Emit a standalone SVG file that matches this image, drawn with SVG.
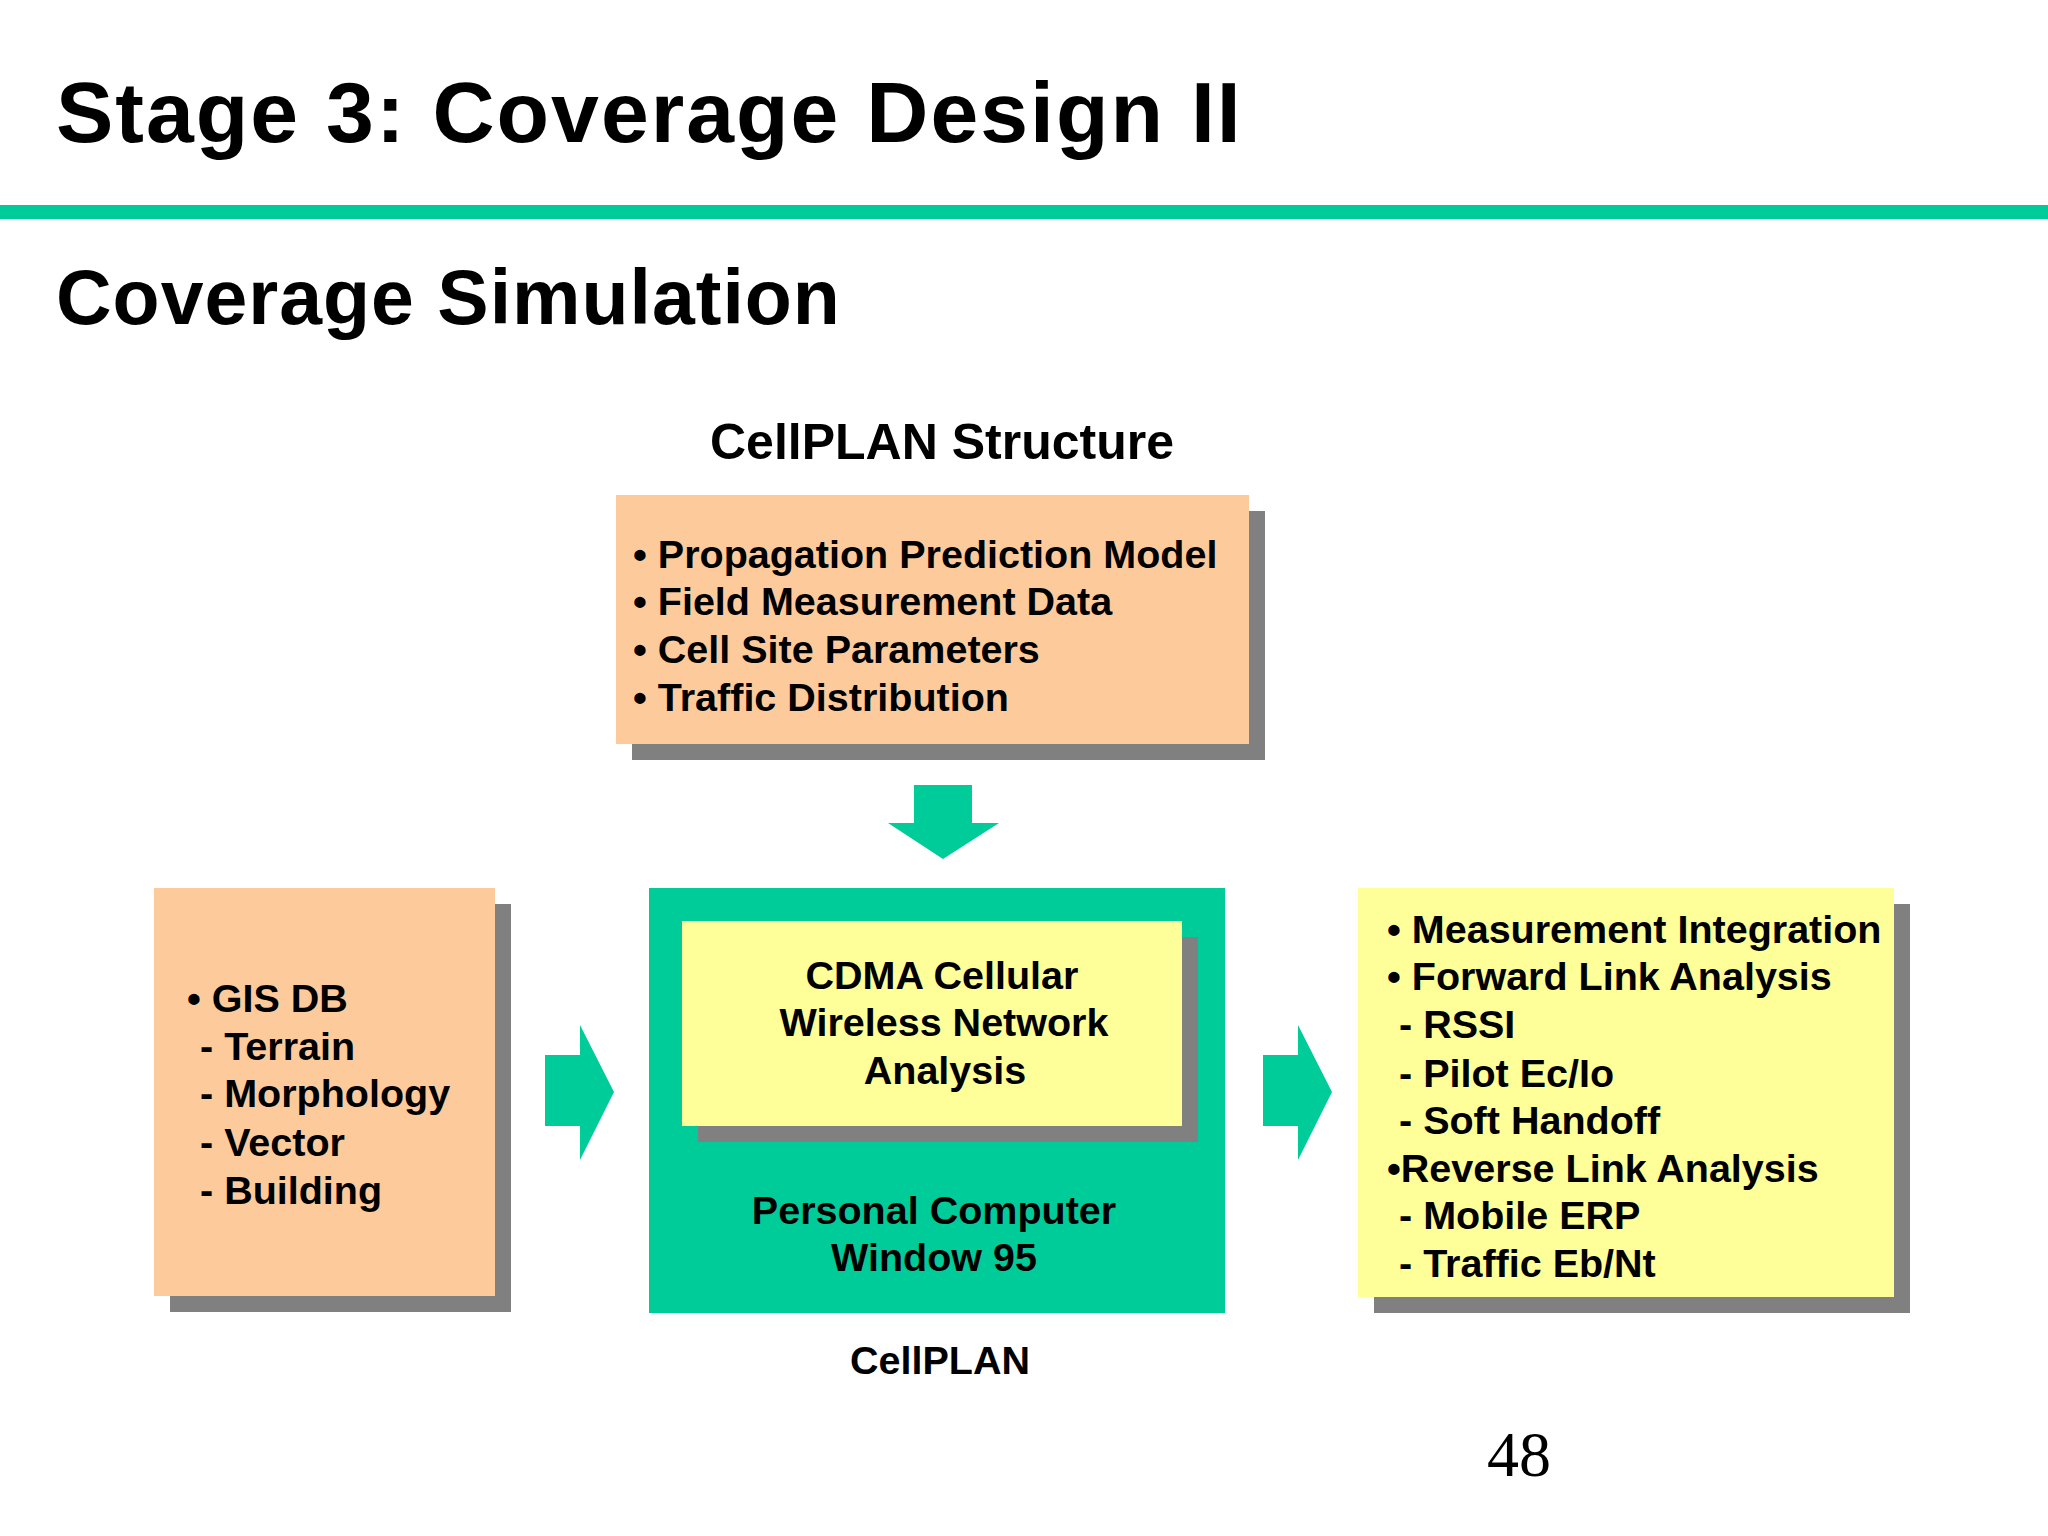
<svg xmlns="http://www.w3.org/2000/svg" width="2048" height="1536" viewBox="0 0 2048 1536">
<style>
text{font-family:"Liberation Sans",Arial,sans-serif;font-weight:bold;fill:#000}
.t{font-size:39.5px}
.sh{fill:#808080}
.peach{fill:#FDCB9B}
.yel{fill:#FFFF99}
.grn{fill:#00CC99}
</style>
<rect width="2048" height="1536" fill="#fff"/>
<text x="56" y="142" font-size="86" letter-spacing="2">Stage 3: Coverage Design II</text>
<rect x="0" y="205" width="2048" height="14" class="grn"/>
<text x="56" y="324" font-size="77" letter-spacing="1">Coverage Simulation</text>
<text x="942" y="459" font-size="50" text-anchor="middle">CellPLAN Structure</text>
<g id="inputs">
<rect x="632" y="511" width="633" height="249" class="sh"/>
<rect x="616" y="495" width="633" height="249" class="peach"/>
<text class="t" x="633" y="568">• Propagation Prediction Model</text>
<text class="t" x="633" y="615">• Field Measurement Data</text>
<text class="t" x="633" y="663">• Cell Site Parameters</text>
<text class="t" x="633" y="711">• Traffic Distribution</text>
</g>
<g id="gis">
<rect x="170" y="904" width="341" height="408" class="sh"/>
<rect x="154" y="888" width="341" height="408" class="peach"/>
<text class="t" x="187" y="1012">• GIS DB</text>
<text class="t" x="200" y="1060">- Terrain</text>
<text class="t" x="200" y="1107">- Morphology</text>
<text class="t" x="200" y="1156">- Vector</text>
<text class="t" x="200" y="1204">- Building</text>
</g>
<g id="cellplan">
<rect x="649" y="888" width="576" height="425" class="grn"/>
<rect x="698" y="937" width="500" height="205" class="sh"/>
<rect x="682" y="921" width="500" height="205" class="yel"/>
<text class="t" x="942" y="989" text-anchor="middle">CDMA Cellular</text>
<text class="t" x="944" y="1036" text-anchor="middle">Wireless Network</text>
<text class="t" x="945" y="1084" text-anchor="middle">Analysis</text>
<text class="t" x="934" y="1224" text-anchor="middle">Personal Computer</text>
<text class="t" x="934" y="1271" text-anchor="middle">Window 95</text>
<text class="t" x="940" y="1374" text-anchor="middle">CellPLAN</text>
</g>
<g id="outputs">
<rect x="1374" y="904" width="536" height="409" class="sh"/>
<rect x="1358" y="888" width="536" height="409" class="yel"/>
<text class="t" x="1387" y="943">• Measurement Integration</text>
<text class="t" x="1387" y="990">• Forward Link Analysis</text>
<text class="t" x="1399" y="1038">- RSSI</text>
<text class="t" x="1399" y="1087">- Pilot Ec/Io</text>
<text class="t" x="1399" y="1134">- Soft Handoff</text>
<text class="t" x="1387" y="1182">•Reverse Link Analysis</text>
<text class="t" x="1399" y="1229">- Mobile ERP</text>
<text class="t" x="1399" y="1277">- Traffic Eb/Nt</text>
</g>
<g id="connectors" class="grn">
<polygon points="914,785 972,785 972,823 999,823 943,859 888,823 914,823"/>
<polygon points="545,1055 580,1055 580,1025 614,1092 580,1160 580,1126 545,1126"/>
<polygon points="1263,1055 1298,1055 1298,1025 1332,1092 1298,1160 1298,1126 1263,1126"/>
</g>
<text x="1487" y="1476" font-size="64" style="font-family:'Liberation Serif','Times New Roman',serif;font-weight:normal">48</text>
</svg>
